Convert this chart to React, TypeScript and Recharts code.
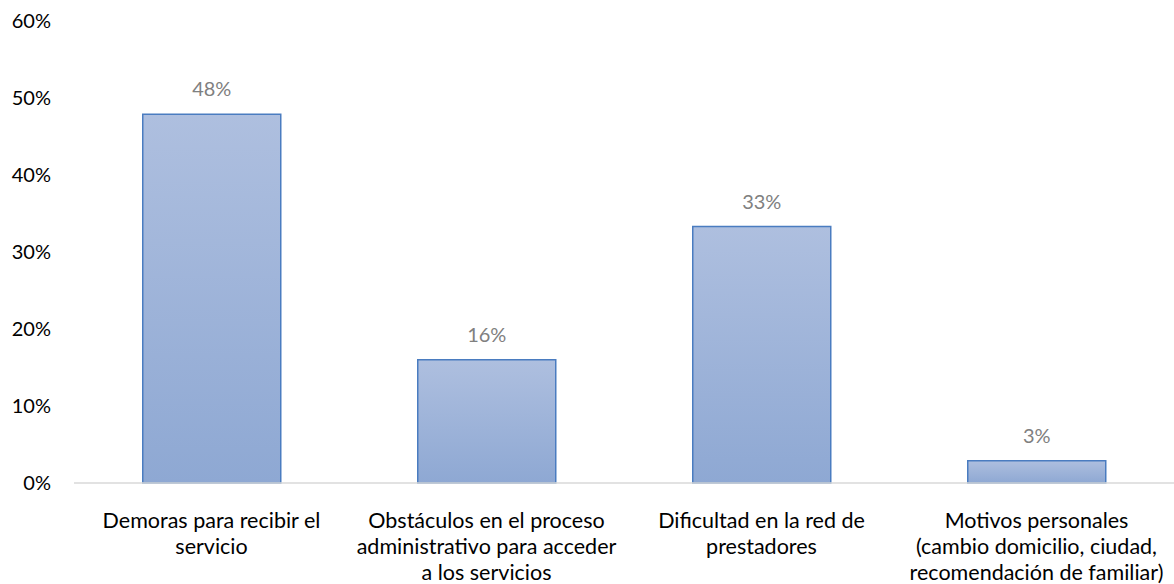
import { BarChart, Bar, XAxis, YAxis, LabelList } from 'recharts';

// categories (each one split into the lines shown under the axis)
const categories = [
  'Demoras para recibir el servicio',
  'Obstáculos en el proceso administrativo para acceder a los servicios',
  'Dificultad en la red de prestadores',
  'Motivos personales (cambio domicilio, ciudad, recomendación de familiar)',
];
const categoryLines = [
  ['Demoras para recibir el', 'servicio'],
  ['Obstáculos en el proceso', 'administrativo para acceder', 'a los servicios'],
  ['Dificultad en la red de', 'prestadores'],
  ['Motivos personales', '(cambio domicilio, ciudad,', 'recomendación de familiar)'],
];
const percentages = [47.9, 16, 33.3, 2.9];
const yTicks = [0, 10, 20, 30, 40, 50, 60];

const data = categories.map((name, i) => ({
  name,
  lines: categoryLines[i],
  value: percentages[i],
}));

const FONT = 'Lato, "Open Sans", sans-serif';

const CategoryTick = ({ x, y, payload }: any) => {
  const lines = categoryLines[payload.index] ?? [payload.value];
  return (
    <g transform={`translate(${x},${y})`}>
      {lines.map((line: string, i: number) => (
        <text
          key={i}
          x={0}
          y={37 + i * 26}
          textAnchor="middle"
          fill="#000"
          fontSize={21.5}
          fontFamily={FONT}
        >
          {line}
        </text>
      ))}
    </g>
  );
};

export default function App() {
  return (
    <div style={{ position: 'absolute', left: 0, top: 0, width: 1174, height: 584, background: '#fff' }}>
      <BarChart
        width={1174}
        height={584}
        data={data}
        margin={{ top: 21, right: 0, left: 0, bottom: 0 }}
        barCategoryGap="25%"
      >
        <defs>
          <linearGradient id="barFill" x1="0" y1="0" x2="0" y2="1">
            <stop offset="0%" stopColor="#aebfdf" />
            <stop offset="100%" stopColor="#8ea8d3" />
          </linearGradient>
        </defs>
        <XAxis
          dataKey="name"
          interval={0}
          height={101}
          tickLine={false}
          axisLine={{ stroke: '#d9d9d9', strokeWidth: 1.5 }}
          tick={<CategoryTick />}
        />
        <YAxis
          domain={[0, 60]}
          ticks={yTicks}
          width={74}
          axisLine={false}
          tickLine={false}
          tickSize={0}
          tickMargin={23}
          tickFormatter={(v) => `${v}%`}
          tick={{ fill: '#000', fontSize: 20, fontFamily: FONT }}
        />
        <Bar
          dataKey="value"
          fill="url(#barFill)"
          stroke="#4a7cc0"
          strokeWidth={1.5}
          isAnimationActive={false}
        >
          <LabelList
            dataKey="value"
            position="top"
            offset={18}
            formatter={(v: any) => `${Math.round(v)}%`}
            style={{ fill: '#808080', fontSize: 20, fontFamily: FONT }}
          />
        </Bar>
      </BarChart>
    </div>
  );
}
